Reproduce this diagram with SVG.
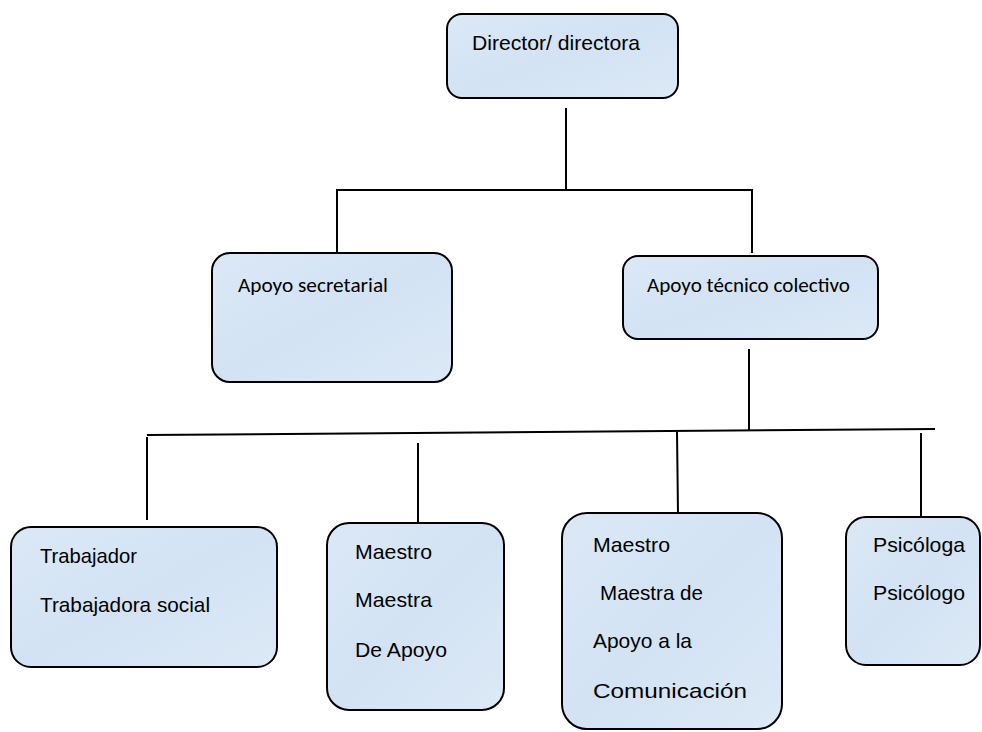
<svg xmlns="http://www.w3.org/2000/svg" width="982" height="732" viewBox="0 0 982 732">
<style>
.box{fill:url(#tex);stroke:#000;stroke-width:2}
.con{stroke:#000;stroke-width:2;fill:none}
.a{font-family:"Liberation Sans",Arial,sans-serif;font-size:21px;fill:#000}
.c{font-family:Carlito,Lato,"Liberation Sans",sans-serif;font-size:21px;fill:#000}
</style>
<defs>
<linearGradient id="tex" x1="0" y1="0" x2="1" y2="1">
<stop offset="0" stop-color="#dbe8f6"/>
<stop offset="0.5" stop-color="#d3e3f4"/>
<stop offset="1" stop-color="#dce9f6"/>
</linearGradient>
</defs>
<rect width="982" height="732" fill="#fff"/>
<g id="connectors">
<line class="con" x1="566" y1="108" x2="566" y2="190"/>
<polyline class="con" points="337,252 337,190 752,190 752,253"/>
<line class="con" x1="749" y1="349" x2="749" y2="430"/>
<line class="con" x1="147" y1="435" x2="935" y2="429"/>
<line class="con" x1="147" y1="437" x2="147" y2="520"/>
<line class="con" x1="418" y1="443" x2="418" y2="523"/>
<line class="con" x1="677" y1="432" x2="678" y2="513"/>
<line class="con" x1="921" y1="433" x2="921" y2="517"/>
</g>
<g id="director">
<rect class="box" x="447" y="14" width="231" height="84" rx="15"/>
<text class="a" x="472" y="50" textLength="168" lengthAdjust="spacingAndGlyphs">Director/ directora</text>
</g>
<g id="apoyo-secretarial">
<rect class="box" x="212" y="253" width="240" height="129" rx="18"/>
<text class="c" x="238" y="292" textLength="150" lengthAdjust="spacingAndGlyphs">Apoyo secretarial</text>
</g>
<g id="apoyo-tecnico">
<rect class="box" x="623" y="256" width="255" height="83" rx="15"/>
<text class="c" x="647" y="292" textLength="203" lengthAdjust="spacingAndGlyphs">Apoyo técnico colectivo</text>
</g>
<g id="trabajador">
<rect class="box" x="11" y="527" width="266" height="140" rx="20"/>
<text class="a" x="40" y="563" textLength="97" lengthAdjust="spacingAndGlyphs">Trabajador</text>
<text class="a" x="40" y="612" textLength="170" lengthAdjust="spacingAndGlyphs">Trabajadora social</text>
</g>
<g id="maestro-apoyo">
<rect class="box" x="327" y="523" width="177" height="187" rx="22"/>
<text class="a" x="355" y="559" textLength="77" lengthAdjust="spacingAndGlyphs">Maestro</text>
<text class="a" x="355" y="607" textLength="77" lengthAdjust="spacingAndGlyphs">Maestra</text>
<text class="a" x="355" y="657" textLength="92" lengthAdjust="spacingAndGlyphs">De Apoyo</text>
</g>
<g id="maestro-comunicacion">
<rect class="box" x="562" y="513" width="220" height="216" rx="25"/>
<text class="a" x="593" y="552" textLength="77" lengthAdjust="spacingAndGlyphs">Maestro</text>
<text class="a" x="600" y="600" textLength="103" lengthAdjust="spacingAndGlyphs">Maestra de</text>
<text class="a" x="593" y="648" textLength="99" lengthAdjust="spacingAndGlyphs">Apoyo a la</text>
<text class="a" x="593" y="698" textLength="154" lengthAdjust="spacingAndGlyphs">Comunicación</text>
</g>
<g id="psicologa">
<rect class="box" x="846" y="517" width="134" height="148" rx="20"/>
<text class="a" x="873" y="552" textLength="92" lengthAdjust="spacingAndGlyphs">Psicóloga</text>
<text class="a" x="873" y="600" textLength="92" lengthAdjust="spacingAndGlyphs">Psicólogo</text>
</g>
</svg>
